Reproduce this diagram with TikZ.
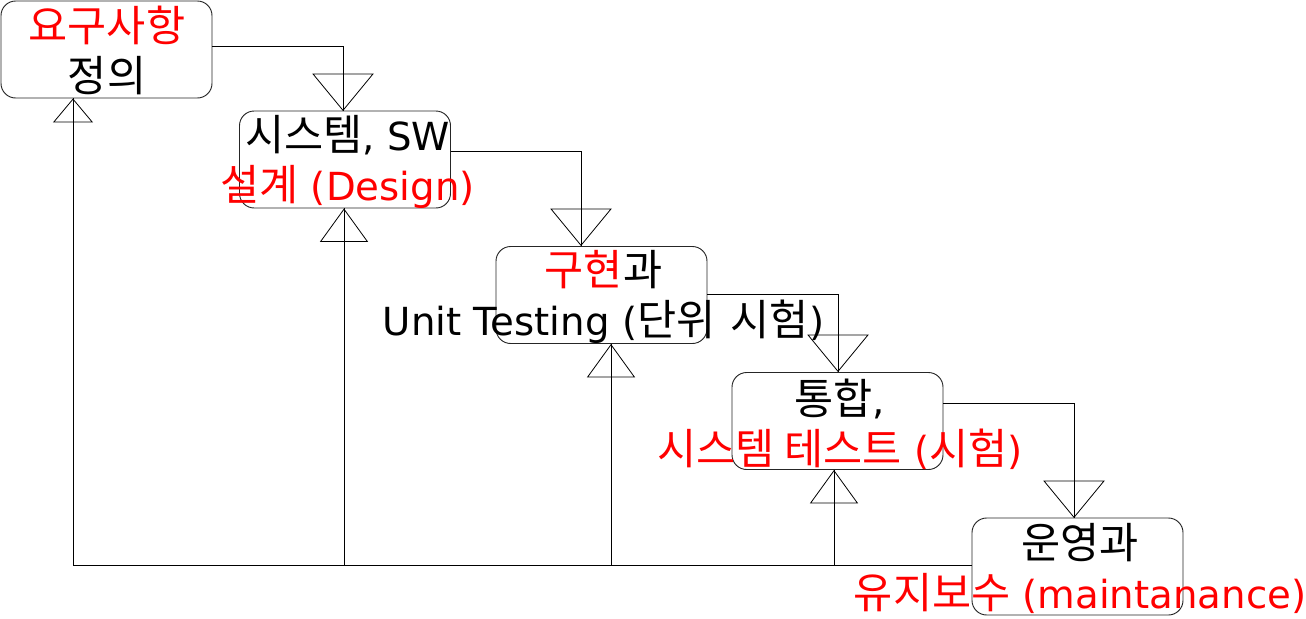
\documentclass[tikz,border=0pt]{standalone}
\usepackage{fontspec}
\setmainfont{DejaVu Sans}
\newfontfamily\kr[Scale=1.1]{Noto Sans CJK KR}
\usetikzlibrary{arrows.meta}
\begin{document}
\begin{tikzpicture}[x=0.75pt,y=-0.75pt,
  box/.style={draw=black!85, rounded corners=11pt, minimum width=158.25pt, minimum height=72.75pt, inner sep=0pt, line width=0.7pt},
  txt/.style={align=center, font=\fontsize{29}{37.5}\selectfont, inner sep=0pt},
  conn/.style={line width=0.6pt, draw=black},
  down/.style={conn, postaction={draw, -{Triangle[open, length=28pt, width=46pt, line width=0.6pt]}}},
  up/.style={conn, postaction={draw, -{Triangle[open, length=25pt, width=36pt, line width=0.6pt]}}},
  upsmall/.style={conn, postaction={draw, -{Triangle[open, length=18pt, width=30pt, line width=0.6pt]}}}]
\useasboundingbox (0,0) rectangle (1306,618);

% boxes
\node[box] (A) at (106.5,49.5) {};
\node[box] (B) at (345,159.5) {};
\node[box] (C) at (601.5,295) {};
\node[box] (D) at (837.5,421) {};
\node[box] (E) at (1077.5,566.5) {};

% texts
\node[txt] (tA) at (107,50) {\textcolor{red}{\kr 요구사항}\\{\kr 정의}};
\node[txt] (tB) at (347.5,162) {{\kr 시스템}, SW\\\textcolor{red}{{\kr 설계} (Design)}};
\node[txt] (tC) at (603.5,297) {\textcolor{red}{\kr 구현}{\kr 과}\\Unit Testing ({\kr 단위}\hspace{0.4em}{\kr 시험})};
\node[txt] (tD) at (840,424) {{\kr 통합},\\\textcolor{red}{{\kr 시스템 테스트} ({\kr 시험})}};
\node[txt] (tE) at (1080,568) {{\kr 운영과}\\\textcolor{red}{{\kr 유지보수} (maintanance)}};

% forward connectors
\coordinate (cB) at (343,111);
\coordinate (cC) at (581,246);
\coordinate (cD) at (838,372);
\coordinate (cE) at (1074,518);
\draw[down] ([yshift=2.6pt]A.east) -| (cB);
\draw[down] ([yshift=6.4pt]B.east) -| (cC);
\draw[down] ([yshift=0.8pt]C.east) -| (cD);
\draw[down] ([yshift=13.5pt]D.east) -| (cE);

% feedback bus
\coordinate (bA) at (73,565);
\coordinate (bB) at (344,565);
\coordinate (bC) at (611,565);
\coordinate (bD) at (834,565);
\draw[conn] (E.west |- bA) -- (bA);
\draw[upsmall] (bA) -- (bA |- A.south);
\draw[up] (bB) -- (bB |- B.south);
\draw[up] (bC) -- (bC |- C.south);
\draw[up] (bD) -- (bD |- D.south);
\end{tikzpicture}
\end{document}
